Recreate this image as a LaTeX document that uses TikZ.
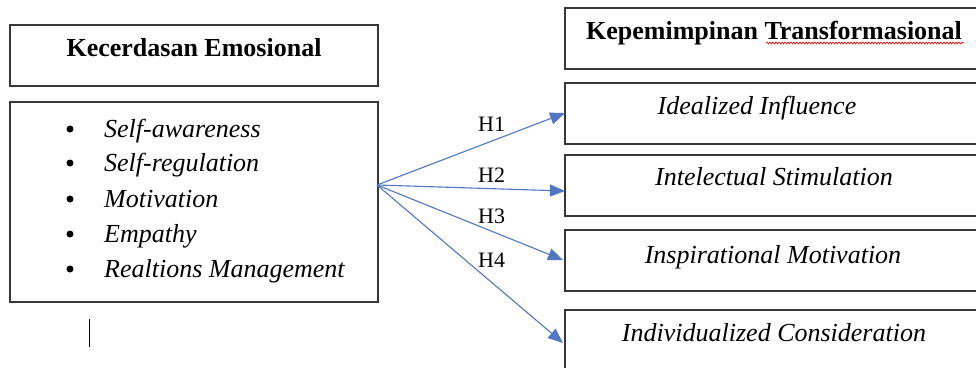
\documentclass[tikz,border=0pt]{standalone}
\usepackage{fontspec}
\setmainfont{Liberation Serif}
\usetikzlibrary{arrows.meta,decorations.pathmorphing}
\definecolor{arrowblue}{RGB}{80,118,196}
\definecolor{boxgray}{RGB}{55,55,55}
\tikzset{
  box/.style={draw=boxgray, line width=1.4pt},
  title/.style={font=\fontsize{26}{30}\selectfont\bfseries, inner sep=0pt},
  item/.style={font=\fontsize{26}{30}\selectfont\itshape, inner sep=0pt, anchor=base west},
  dim/.style={font=\fontsize{26}{30}\selectfont\itshape, inner sep=0pt, anchor=base},
  hlab/.style={font=\fontsize{22}{26}\selectfont, inner sep=0pt, anchor=base west},
  hyp/.style={draw=arrowblue, line width=1.1pt, -{Triangle[length=15pt,width=12pt]}},
  dot/.style={circle, fill=black, inner sep=0pt, minimum size=7pt}
}
\begin{document}
\begin{tikzpicture}[x=1pt,y=-1pt]
\useasboundingbox (0,0) rectangle (976,367);
\clip (0,0) rectangle (976,367);
% left boxes
\draw[box] (10,25) rectangle (378,86);
\node[title, anchor=base] (ke) at (194,56) {Kecerdasan Emosional};
\draw[box] (10,102) rectangle (378,302);
\coordinate (src) at (377,185);
\foreach \y/\t [count=\i] in {137/Self-awareness,171/Self-regulation,207/Motivation,242/Empathy,277/Realtions Management}{
  \node[dot] (b\i) at (70,\y-8) {};
  \node[item] (it\i) at (104,\y) {\t};
}
% cursor line
\draw[line width=1pt] (89,319) -- (89,347);
% right boxes
\draw[box] (565,8) rectangle (990,69);
\node[title, anchor=base] (kt) at (774,39) {Kepemimpinan Transformasional};
\draw[red, line width=0.6pt, decorate, decoration={snake, amplitude=1pt, segment length=3pt}] (766,43) -- (964,43);
\draw[box] (565,83) rectangle (990,144);
\draw[box] (565,155) rectangle (990,216);
\draw[box] (565,230) rectangle (990,291);
\draw[box] (565,310) rectangle (990,380);
\node[dim] (d1) at (757,114) {Idealized Influence};
\node[dim] (d2) at (774,185) {Intelectual Stimulation};
\node[dim] (d3) at (773,263) {Inspirational Motivation};
\node[dim] (d4) at (774,341) {Individualized Consideration};
\coordinate (t1) at (565,113);
\coordinate (t2) at (565,191);
\coordinate (t3) at (563,260);
\coordinate (t4) at (563,343);
\draw[hyp] (src) -- (t1);
\draw[hyp] (src) -- (t2);
\draw[hyp] (src) -- (t3);
\draw[hyp] (src) -- (t4);
\node[hlab] (h1) at (478,131) {H1};
\node[hlab] (h2) at (478,182) {H2};
\node[hlab] (h3) at (478,223) {H3};
\node[hlab] (h4) at (478,267) {H4};
\end{tikzpicture}
\end{document}
